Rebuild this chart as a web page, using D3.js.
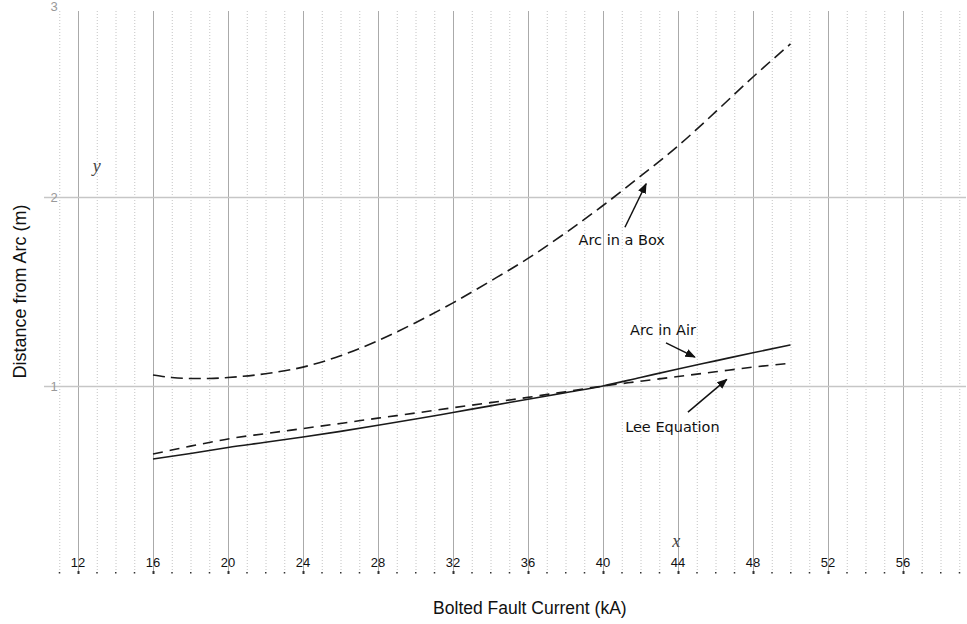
<!DOCTYPE html>
<html>
<head>
<meta charset="utf-8">
<script src="https://cdn.jsdelivr.net/npm/d3@7"></script>
<style>
  body { margin: 0; background: #fff; }
  svg { display: block; }
</style>
</head>
<body>
<div id="chart"></div>
<script>
// fault current (kA)
var current = [16, 17, 18, 19, 20, 22, 24, 26, 28, 30, 32, 34, 36, 38, 40, 42, 44, 46, 48, 50];
// distance (m)
var arcInBox = [1.058, 1.045, 1.04, 1.04, 1.045, 1.065, 1.10, 1.16, 1.24, 1.335, 1.44, 1.555, 1.675, 1.81, 1.955, 2.11, 2.27, 2.45, 2.635, 2.81];
var arcInAir = [0.614, 0.628, 0.643, 0.659, 0.675, 0.702, 0.73, 0.76, 0.792, 0.825, 0.86, 0.895, 0.93, 0.965, 1.0, 1.045, 1.09, 1.133, 1.176, 1.217];
var leeEquation = [0.64, 0.661, 0.682, 0.701, 0.72, 0.748, 0.775, 0.802, 0.83, 0.857, 0.885, 0.912, 0.94, 0.97, 1.0, 1.025, 1.05, 1.075, 1.10, 1.12];

var xTicks = [12, 16, 20, 24, 28, 32, 36, 40, 44, 48, 52, 56];
var xMinor = d3.range(11, 60);
var yTicks = [1, 2, 3];

// annotations: label position and arrow tail/tip in data units
var labels = [
  {text: 'Arc in a Box', lx: 41.0, ly: 1.745, x1: 41.17, y1: 1.84, x2: 42.3, y2: 2.07},
  {text: 'Arc in Air', lx: 43.2, ly: 1.27, x1: 43.36, y1: 1.228, x2: 44.9, y2: 1.153},
  {text: 'Lee Equation', lx: 43.7, ly: 0.755, x1: 44.53, y1: 0.862, x2: 46.6, y2: 1.035}
];

var width = 967, height = 624;
var svg = d3.select('#chart').append('svg')
  .attr('width', width)
  .attr('height', height);

var x = d3.scaleLinear().domain([12, 56]).range([78, 903]);
var y = d3.scaleLinear().domain([0, 3]).range([575, 8]);

var gridTop = 11, gridBottom = 572;

// minor vertical grid
svg.selectAll('.minor')
  .data(xMinor.filter(function (d) { return d % 4 !== 0; }))
  .enter()
  .append('line')
  .attr('class', 'minor')
  .attr('x1', function (d) { return x(d) + 0.5; })
  .attr('x2', function (d) { return x(d) + 0.5; })
  .attr('y1', gridTop)
  .attr('y2', gridBottom)
  .style('stroke', '#c4c4c4')
  .style('stroke-dasharray', '1,2');

// major vertical grid
svg.selectAll('.major')
  .data(xTicks)
  .enter()
  .append('line')
  .attr('class', 'major')
  .attr('x1', function (d) { return x(d) + 0.5; })
  .attr('x2', function (d) { return x(d) + 0.5; })
  .attr('y1', gridTop)
  .attr('y2', gridBottom)
  .style('stroke', '#aaa');

// horizontal grid
svg.selectAll('.hgrid')
  .data(yTicks.slice(0, 2))
  .enter()
  .append('line')
  .attr('class', 'hgrid')
  .attr('x1', 44)
  .attr('x2', 966)
  .attr('y1', function (d) { return y(d) + 0.5; })
  .attr('y2', function (d) { return y(d) + 0.5; })
  .style('stroke', '#c6c6c6')
  .style('stroke-width', 1.5);

// y tick labels (top one sits at the very edge)
svg.selectAll('.ylab')
  .data(yTicks)
  .enter()
  .append('text')
  .attr('class', 'ylab')
  .attr('x', 54)
  .attr('y', function (d) { return d === 3 ? y(d) + 3 : y(d) + 5; })
  .attr('text-anchor', 'middle')
  .style('font', '13px "Liberation Sans", Arial, sans-serif')
  .style('fill', '#999')
  .text(function (d) { return d; });

// x axis ticks (dots)
svg.selectAll('.xtick')
  .data(xMinor)
  .enter()
  .append('rect')
  .attr('class', 'xtick')
  .attr('x', function (d) { return x(d) - 0.5; })
  .attr('y', function (d) { return d % 4 === 0 ? gridBottom - 1 : gridBottom; })
  .attr('width', function (d) { return d % 4 === 0 ? 2 : 1.5; })
  .attr('height', function (d) { return d % 4 === 0 ? 3 : 1.5; })
  .style('fill', '#333');

svg.selectAll('.xlab')
  .data(xTicks)
  .enter()
  .append('text')
  .attr('class', 'xlab')
  .attr('x', function (d) { return x(d); })
  .attr('y', 567)
  .attr('text-anchor', 'middle')
  .style('font', '13px "Liberation Sans", Arial, sans-serif')
  .style('fill', '#111')
  .text(function (d) { return d; });

// italic axis letters
svg.append('text')
  .attr('x', x(13))
  .attr('y', y(2.13))
  .attr('text-anchor', 'middle')
  .style('font', 'italic 18px "Liberation Serif", serif')
  .style('fill', '#444')
  .text('y');

svg.append('text')
  .attr('x', x(43.9))
  .attr('y', y(0.15))
  .attr('text-anchor', 'middle')
  .style('font', 'italic 18px "Liberation Serif", serif')
  .style('fill', '#444')
  .text('x');

// axis titles
svg.append('text')
  .attr('transform', 'translate(26,' + y(1.5) + ') rotate(-90)')
  .attr('text-anchor', 'middle')
  .style('font', '18px "Liberation Sans", Arial, sans-serif')
  .style('fill', '#111')
  .text('Distance from Arc (m)');

svg.append('text')
  .attr('x', x(36.1))
  .attr('y', 614)
  .attr('text-anchor', 'middle')
  .style('font', '17.5px "Liberation Sans", Arial, sans-serif')
  .style('fill', '#111')
  .text('Bolted Fault Current (kA)');

// curves
var series = [
  {values: arcInBox, dash: '12,6'},
  {values: arcInAir, dash: null},
  {values: leeEquation, dash: '10,7'}
];

var line = d3.line()
  .x(function (d) { return x(d[0]); })
  .y(function (d) { return y(d[1]); })
  .curve(d3.curveMonotoneX);

svg.selectAll('.curve')
  .data(series)
  .enter()
  .append('path')
  .attr('class', 'curve')
  .attr('d', function (s) { return line(d3.zip(current, s.values)); })
  .style('fill', 'none')
  .style('stroke', '#1a1a1a')
  .style('stroke-width', 1.6)
  .style('stroke-dasharray', function (s) { return s.dash; });

// arrowhead
svg.append('defs').append('marker')
  .attr('id', 'head')
  .attr('viewBox', '0 0 10 10')
  .attr('refX', 9)
  .attr('refY', 5)
  .attr('markerWidth', 7)
  .attr('markerHeight', 7)
  .attr('markerUnits', 'strokeWidth')
  .attr('orient', 'auto')
  .append('path')
  .attr('d', 'M0,1 L10,5 L0,9 Z')
  .style('fill', '#111');

svg.selectAll('.arrow')
  .data(labels)
  .enter()
  .append('line')
  .attr('class', 'arrow')
  .attr('x1', function (d) { return x(d.x1); })
  .attr('y1', function (d) { return y(d.y1); })
  .attr('x2', function (d) { return x(d.x2); })
  .attr('y2', function (d) { return y(d.y2); })
  .style('stroke', '#111')
  .style('stroke-width', 1.5)
  .attr('marker-end', 'url(#head)');

svg.selectAll('.note')
  .data(labels)
  .enter()
  .append('text')
  .attr('class', 'note')
  .attr('x', function (d) { return x(d.lx); })
  .attr('y', function (d) { return y(d.ly); })
  .attr('text-anchor', 'middle')
  .style('font', '14.5px "DejaVu Sans", sans-serif')
  .style('fill', '#111')
  .text(function (d) { return d.text; });
</script>
</body>
</html>
